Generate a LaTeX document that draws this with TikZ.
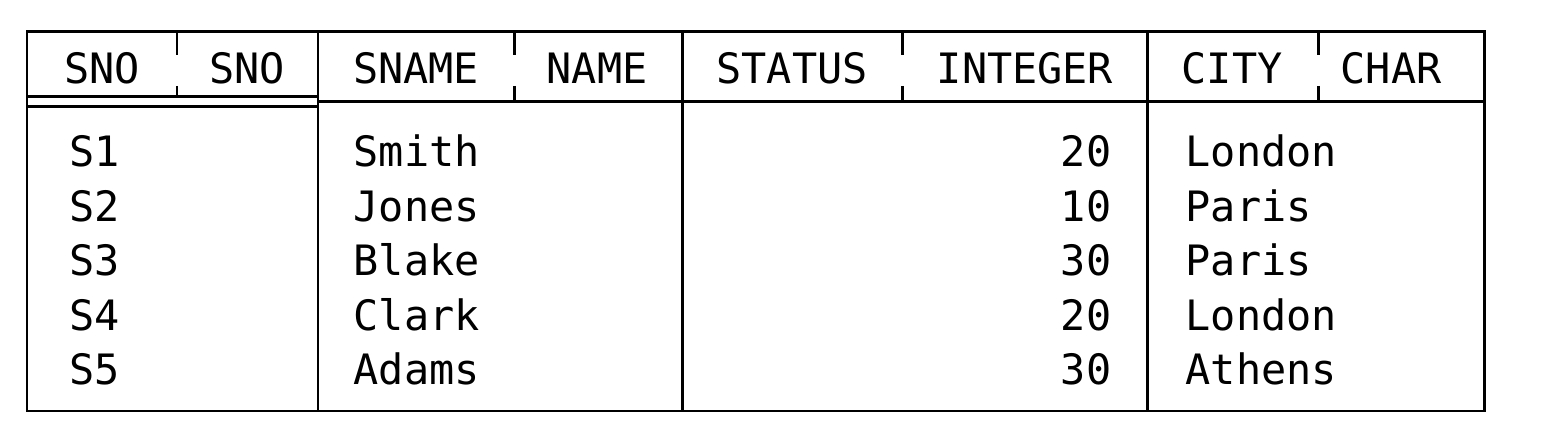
\documentclass[tikz,border=0pt]{standalone}
\usepackage{fontspec}
\setmonofont{DejaVu Sans Mono}
\usepackage{tikz}
\usetikzlibrary{positioning}

\begin{document}
\begin{tikzpicture}[x=0.01cm,y=-0.01cm]
	\useasboundingbox (0,0) rectangle (1548,446);
	\tikzstyle{rule}=[line width=0.85pt]
	\tikzstyle{cell}=[font=\ttfamily\fontsize{11.9}{14}\selectfont, inner sep=0pt, anchor=base]

	% Draw the frame.
	\draw [rule] (27,32) rectangle (1484,411);
	\foreach \x in {318,682,1147}
		\draw [rule] (\x,32)--(\x,411);
	\draw [rule] (27,97)--(318,97);
	\draw [rule] (27,107)--(318,107);
	\draw [rule] (318,102)--(1484,102);

	% Broken dividers in the header.
	\draw [rule] (177,32)--(177,55);
	\draw [rule] (177,86)--(177,97);
	\foreach \x in {514,902,1318} {
		\draw [rule] (\x,32)--(\x,55);
		\draw [rule] (\x,86)--(\x,102);
	}

	\node [cell] (sno) at (102,84) {SNO};
	\node [cell] (snodom) at (247,84) {SNO};
	\node [cell] (sname) at (416,84) {SNAME};
	\node [cell] (snamedom) at (597,84) {NAME};
	\node [cell] (status) at (792,84) {STATUS};
	\node [cell] (statusdom) at (1025,84) {INTEGER};
	\node [cell] (city) at (1232,84) {CITY};
	\node [cell] (citydom) at (1391,84) {CHAR};

	% The rows.
	\foreach \s/\n/\t/\c [count=\i] in {S1/Smith/20/London, S2/Jones/10/Paris, S3/Blake/30/Paris, S4/Clark/20/London, S5/Adams/30/Athens} {
		\pgfmathsetmacro\yy{167+54.5*(\i-1)}
		\node [cell, anchor=base west] (sno\i) at (69,\yy) {\s};
		\node [cell, anchor=base west] (sname\i) at (353,\yy) {\n};
		\node [cell, anchor=base east] (status\i) at (1112,\yy) {\t};
		\node [cell, anchor=base west] (city\i) at (1185,\yy) {\c};
	}

\end{tikzpicture}
\end{document}
